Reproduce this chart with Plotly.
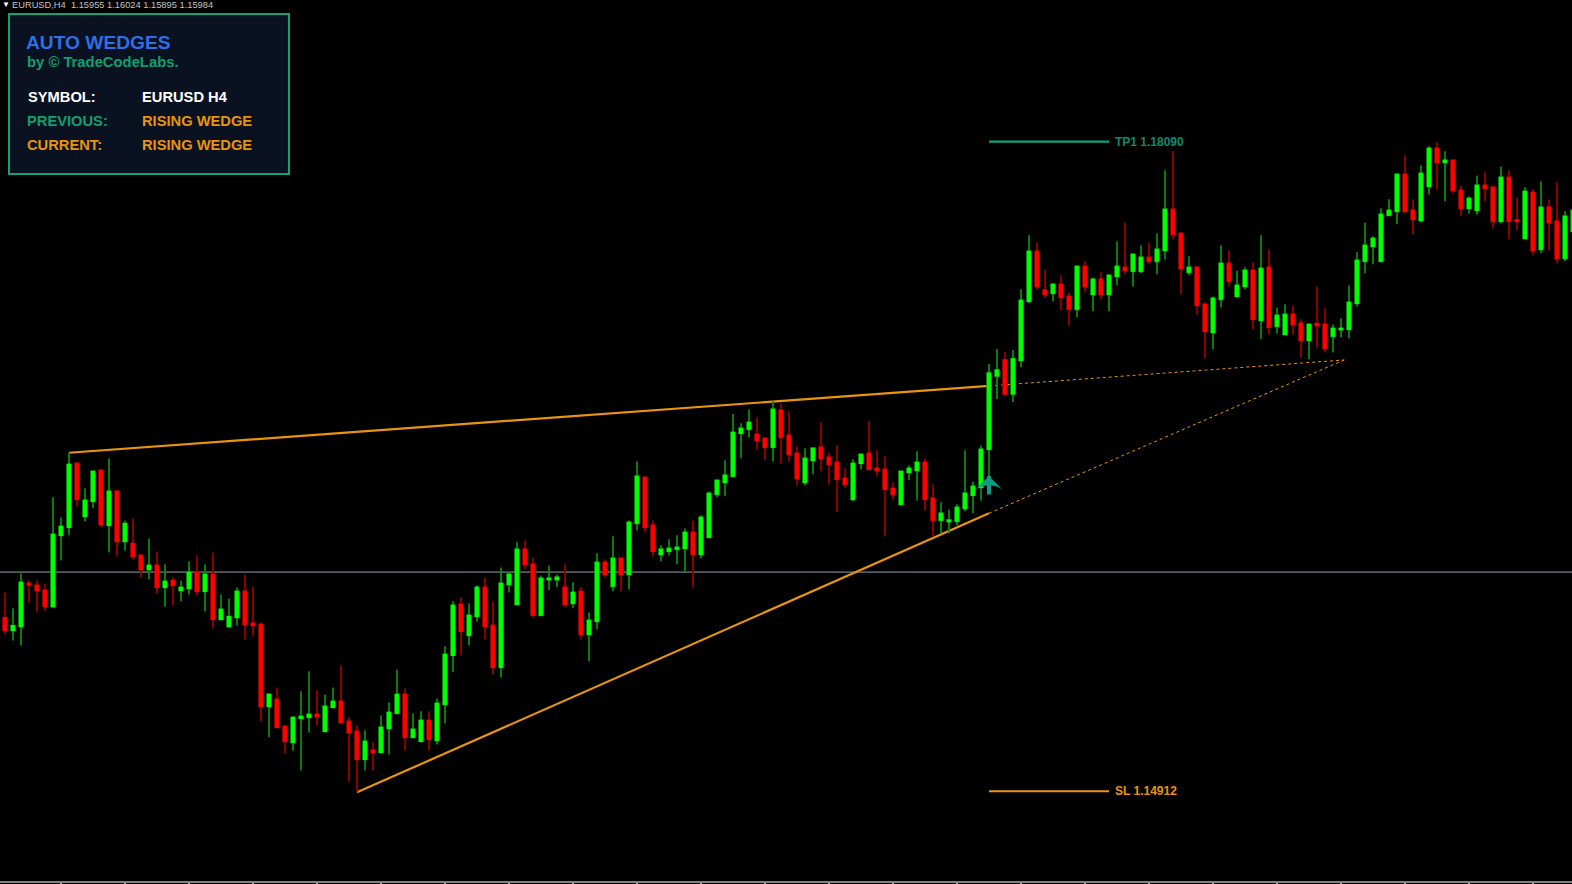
import plotly.graph_objects as go

# EURUSD H4 bars
opens = [
    1.15761, 1.15699, 1.15718, 1.15929, 1.15919, 1.15895, 1.15816, 1.16164, 1.16203, 1.16516,
    1.16257, 1.16330, 1.16482, 1.16213, 1.16379, 1.16134, 1.16124, 1.16066, 1.15997, 1.16017,
    1.15909, 1.15943, 1.15895, 1.15904, 1.15983, 1.15890, 1.15973, 1.15753, 1.15718, 1.15762,
    1.15890, 1.15733, 1.15728, 1.15327, 1.15362, 1.15229, 1.15151, 1.15269, 1.15273, 1.15288,
    1.15205, 1.15322, 1.15352, 1.15254, 1.15205, 1.15068, 1.15112, 1.15102, 1.15220, 1.15293,
    1.15386, 1.15176, 1.15156, 1.15259, 1.15161, 1.15337, 1.15577, 1.15826, 1.15675, 1.15768,
    1.15909, 1.15724, 1.15518, 1.15924, 1.15826, 1.16096, 1.16022, 1.15773, 1.15947, 1.15947,
    1.15910, 1.15831, 1.15890, 1.15680, 1.15743, 1.16032, 1.15915, 1.16052, 1.15973, 1.16223,
    1.16448, 1.16213, 1.16071, 1.16086, 1.16096, 1.16100, 1.16179, 1.16071, 1.16154, 1.16365,
    1.16423, 1.16453, 1.16663, 1.16683, 1.16658, 1.16639, 1.16595, 1.16776, 1.16653, 1.16565,
    1.16423, 1.16531, 1.16595, 1.16546, 1.16521, 1.16443, 1.16340, 1.16516, 1.16565, 1.16492,
    1.16487, 1.16394, 1.16316, 1.16472, 1.16482, 1.16521, 1.16345, 1.16238, 1.16231, 1.16233,
    1.16296, 1.16360, 1.16399, 1.16585, 1.16944, 1.17022, 1.16856, 1.17020, 1.17309, 1.17553,
    1.17363, 1.17348, 1.17392, 1.17333, 1.17270, 1.17480, 1.17343, 1.17416, 1.17343, 1.17431,
    1.17475, 1.17456, 1.17456, 1.17524, 1.17505, 1.17558, 1.17759, 1.17641, 1.17451, 1.17475,
    1.17294, 1.17157, 1.17319, 1.17495, 1.17333, 1.17382, 1.17460, 1.17216, 1.17475, 1.17187,
    1.17147, 1.17245, 1.17201, 1.17118, 1.17200, 1.17196, 1.17138, 1.17170, 1.17172, 1.17299,
    1.17505, 1.17578, 1.17505, 1.17730, 1.17749, 1.17930, 1.17754, 1.17705, 1.17871, 1.18057,
    1.17989, 1.17999, 1.17852, 1.17764, 1.17754, 1.17876, 1.17867, 1.17700, 1.17915, 1.17707,
    1.17617, 1.17842, 1.17563, 1.17769, 1.17700, 1.17519, 1.17651,
]
highs = [
    1.15885, 1.15807, 1.15978, 1.15943, 1.15943, 1.15929, 1.16350, 1.16252, 1.16568, 1.16516,
    1.16394, 1.16477, 1.16482, 1.16540, 1.16385, 1.16237, 1.16247, 1.16066, 1.16149, 1.16085,
    1.16022, 1.15958, 1.15943, 1.16036, 1.16066, 1.16022, 1.16080, 1.15875, 1.15855, 1.15909,
    1.15973, 1.15914, 1.15738, 1.15391, 1.15420, 1.15234, 1.15278, 1.15401, 1.15499, 1.15406,
    1.15386, 1.15420, 1.15528, 1.15273, 1.15234, 1.15210, 1.15151, 1.15283, 1.15347, 1.15508,
    1.15415, 1.15293, 1.15303, 1.15303, 1.15366, 1.15621, 1.15841, 1.15861, 1.15831, 1.15919,
    1.15958, 1.15841, 1.16007, 1.15985, 1.16130, 1.16140, 1.16056, 1.15968, 1.16017, 1.15973,
    1.16022, 1.15934, 1.15910, 1.15787, 1.16076, 1.16047, 1.16159, 1.16056, 1.16237, 1.16526,
    1.16448, 1.16237, 1.16115, 1.16144, 1.16164, 1.16198, 1.16237, 1.16262, 1.16379, 1.16438,
    1.16531, 1.16758, 1.16712, 1.16780, 1.16741, 1.16639, 1.16820, 1.16810, 1.16771, 1.16600,
    1.16590, 1.16595, 1.16717, 1.16570, 1.16604, 1.16492, 1.16536, 1.16565, 1.16722, 1.16580,
    1.16551, 1.16423, 1.16477, 1.16507, 1.16575, 1.16541, 1.16414, 1.16326, 1.16291, 1.16316,
    1.16580, 1.16428, 1.16604, 1.17002, 1.17076, 1.17061, 1.17071, 1.17368, 1.17632, 1.17597,
    1.17465, 1.17397, 1.17436, 1.17353, 1.17480, 1.17505, 1.17426, 1.17451, 1.17441, 1.17602,
    1.17695, 1.17544, 1.17583, 1.17597, 1.17641, 1.17950, 1.18043, 1.17641, 1.17529, 1.17480,
    1.17304, 1.17333, 1.17583, 1.17558, 1.17460, 1.17475, 1.17500, 1.17632, 1.17563, 1.17279,
    1.17294, 1.17289, 1.17221, 1.17196, 1.17382, 1.17275, 1.17196, 1.17226, 1.17387, 1.17549,
    1.17695, 1.17627, 1.17764, 1.17808, 1.17930, 1.18023, 1.17808, 1.17974, 1.18067, 1.18087,
    1.18043, 1.17999, 1.17876, 1.17822, 1.17925, 1.17940, 1.17876, 1.17969, 1.17950, 1.17818,
    1.17867, 1.17857, 1.17896, 1.17808, 1.17891, 1.17749, 1.17754,
]
lows = [
    1.15679, 1.15650, 1.15625, 1.15836, 1.15787, 1.15797, 1.15807, 1.16041, 1.16164, 1.16305,
    1.16232, 1.16296, 1.16203, 1.16080, 1.16061, 1.16090, 1.16046, 1.15958, 1.15948, 1.15880,
    1.15816, 1.15821, 1.15841, 1.15875, 1.15870, 1.15792, 1.15709, 1.15748, 1.15714, 1.15723,
    1.15655, 1.15670, 1.15254, 1.15176, 1.15225, 1.15097, 1.15112, 1.15014, 1.15200, 1.15234,
    1.15205, 1.15322, 1.15249, 1.14960, 1.14907, 1.15014, 1.15014, 1.15102, 1.15092, 1.15293,
    1.15112, 1.15176, 1.15156, 1.15112, 1.15141, 1.15244, 1.15494, 1.15577, 1.15626, 1.15743,
    1.15655, 1.15484, 1.15469, 1.15885, 1.15826, 1.15998, 1.15763, 1.15769, 1.15895, 1.15910,
    1.15812, 1.15807, 1.15655, 1.15548, 1.15704, 1.15959, 1.15890, 1.15890, 1.15900, 1.16188,
    1.16179, 1.16061, 1.16037, 1.16066, 1.16022, 1.15983, 1.15910, 1.16052, 1.16154, 1.16350,
    1.16355, 1.16448, 1.16541, 1.16643, 1.16585, 1.16531, 1.16526, 1.16516, 1.16526, 1.16409,
    1.16409, 1.16463, 1.16477, 1.16414, 1.16277, 1.16394, 1.16331, 1.16487, 1.16482, 1.16453,
    1.16159, 1.16340, 1.16316, 1.16433, 1.16335, 1.16286, 1.16159, 1.16174, 1.16174, 1.16213,
    1.16282, 1.16272, 1.16335, 1.16435, 1.16831, 1.16846, 1.16816, 1.16986, 1.17299, 1.17368,
    1.17324, 1.17309, 1.17265, 1.17191, 1.17231, 1.17353, 1.17260, 1.17319, 1.17260, 1.17387,
    1.17441, 1.17382, 1.17446, 1.17490, 1.17441, 1.17514, 1.17612, 1.17343, 1.17436, 1.17245,
    1.17030, 1.17074, 1.17279, 1.17382, 1.17333, 1.17368, 1.17172, 1.17123, 1.17147, 1.17152,
    1.17147, 1.17147, 1.17035, 1.17025, 1.17084, 1.17059, 1.17059, 1.17133, 1.17128, 1.17284,
    1.17446, 1.17490, 1.17505, 1.17730, 1.17686, 1.17739, 1.17637, 1.17695, 1.17832, 1.17857,
    1.17798, 1.17837, 1.17725, 1.17739, 1.17734, 1.17798, 1.17666, 1.17690, 1.17612, 1.17656,
    1.17617, 1.17534, 1.17544, 1.17558, 1.17495, 1.17505, 1.17625,
]
closes = [
    1.15699, 1.15722, 1.15934, 1.15922, 1.15895, 1.15816, 1.16169, 1.16208, 1.16511, 1.16340,
    1.16335, 1.16477, 1.16217, 1.16379, 1.16134, 1.16222, 1.16061, 1.15997, 1.16017, 1.15909,
    1.15939, 1.15919, 1.15909, 1.15983, 1.15890, 1.15973, 1.15753, 1.15802, 1.15767, 1.15890,
    1.15728, 1.15723, 1.15327, 1.15386, 1.15225, 1.15156, 1.15273, 1.15278, 1.15288, 1.15278,
    1.15327, 1.15352, 1.15249, 1.15200, 1.15068, 1.15156, 1.15102, 1.15225, 1.15298, 1.15386,
    1.15176, 1.15215, 1.15259, 1.15166, 1.15342, 1.15582, 1.15821, 1.15694, 1.15772, 1.15909,
    1.15719, 1.15518, 1.15929, 1.15973, 1.16096, 1.16022, 1.15773, 1.15954, 1.15954, 1.15959,
    1.15826, 1.15885, 1.15680, 1.15748, 1.16032, 1.15973, 1.16052, 1.15973, 1.16228, 1.16453,
    1.16203, 1.16086, 1.16096, 1.16100, 1.16105, 1.16179, 1.16071, 1.16252, 1.16369, 1.16433,
    1.16458, 1.16668, 1.16687, 1.16717, 1.16629, 1.16595, 1.16781, 1.16644, 1.16560, 1.16443,
    1.16541, 1.16590, 1.16541, 1.16512, 1.16438, 1.16414, 1.16516, 1.16560, 1.16487, 1.16482,
    1.16389, 1.16365, 1.16477, 1.16492, 1.16521, 1.16340, 1.16238, 1.16272, 1.16238, 1.16301,
    1.16370, 1.16404, 1.16585, 1.16958, 1.16973, 1.16856, 1.17027, 1.17314, 1.17553, 1.17382,
    1.17343, 1.17392, 1.17328, 1.17270, 1.17480, 1.17382, 1.17416, 1.17343, 1.17436, 1.17480,
    1.17460, 1.17539, 1.17524, 1.17505, 1.17563, 1.17759, 1.17637, 1.17470, 1.17475, 1.17289,
    1.17162, 1.17324, 1.17495, 1.17407, 1.17387, 1.17460, 1.17221, 1.17470, 1.17182, 1.17240,
    1.17245, 1.17196, 1.17118, 1.17196, 1.17190, 1.17079, 1.17177, 1.17177, 1.17304, 1.17509,
    1.17583, 1.17617, 1.17734, 1.17754, 1.17930, 1.17749, 1.17710, 1.17935, 1.18057, 1.17989,
    1.17999, 1.17852, 1.17764, 1.17813, 1.17876, 1.17862, 1.17700, 1.17915, 1.17700, 1.17700,
    1.17847, 1.17558, 1.17769, 1.17695, 1.17519, 1.17725, 1.17754,
]
bars = list(range(len(opens)))
body_tops = [max(o, c) for o, c in zip(opens, closes)]
body_bottoms = [min(o, c) for o, c in zip(opens, closes)]

# levels and wedge
bid_price = 1.15984
tp_price = 1.18090
sl_price = 1.14912
level_bars = [123, 138]
upper_bars = [8, 123]
upper_prices = [1.16568, 1.16895]
lower_bars = [44, 123]
lower_prices = [1.14907, 1.16272]
apex_bar = 167.4
apex_price = 1.17022
signal_bar = 123
signal_price = 1.16454

ORANGE = "#e9940d"
TEAL = "#0fa37a"
FONT = "Liberation Sans"


def px(x):
    return x / 1572


def py(y):
    return 1 - y / 881


def label(x, y, text, color, size, bold=True):
    if bold:
        text = f"<b>{text}</b>"
    return dict(xref="paper", yref="paper", x=px(x), y=py(y), text=text, showarrow=False,
                xanchor="left", yanchor="middle", font=dict(family=FONT, size=size, color=color))


fig = go.Figure()

# wicks first, bodies on top because the terminal draws them in two colours
fig.add_trace(go.Candlestick(
    x=bars, open=opens, high=highs, low=lows, close=closes,
    increasing=dict(line=dict(color="#0a8a0a", width=1.8), fillcolor="#00ff00"),
    decreasing=dict(line=dict(color="#990000", width=1.8), fillcolor="#ff0000"),
    whiskerwidth=0, showlegend=False,
))
fig.add_trace(go.Candlestick(
    x=bars, open=opens, high=body_tops, low=body_bottoms, close=closes,
    increasing=dict(line=dict(color="#00ff00", width=1.2), fillcolor="#00ff00"),
    decreasing=dict(line=dict(color="#ff0000", width=1.2), fillcolor="#ff0000"),
    whiskerwidth=0, showlegend=False,
))
# chevron head of the buy signal, the stem is an annotation below
fig.add_trace(go.Scatter(
    x=[signal_bar], y=[signal_price], mode="markers", showlegend=False,
    marker=dict(symbol="arrow-wide", size=22, color="#119b84", line=dict(width=0)),
))

solid = dict(color=ORANGE, width=2.2)
dotted = dict(color=ORANGE, width=1, dash="3px,3px")
shapes = [
    dict(type="line", xref="paper", x0=0, x1=1, yref="y", y0=bid_price, y1=bid_price,
         line=dict(color="#545b63", width=1.6), layer="below"),
    dict(type="line", x0=upper_bars[0], x1=upper_bars[1], y0=upper_prices[0], y1=upper_prices[1],
         line=solid, layer="below"),
    dict(type="line", x0=lower_bars[0], x1=lower_bars[1], y0=lower_prices[0], y1=lower_prices[1],
         line=solid, layer="below"),
    dict(type="line", x0=upper_bars[1], x1=apex_bar, y0=upper_prices[1], y1=apex_price,
         line=dotted, layer="below"),
    dict(type="line", x0=lower_bars[1], x1=apex_bar, y0=lower_prices[1], y1=apex_price,
         line=dotted, layer="below"),
    dict(type="line", x0=level_bars[0], x1=level_bars[1], y0=tp_price, y1=tp_price,
         line=dict(color=TEAL, width=2.2), layer="below"),
    dict(type="line", x0=level_bars[0], x1=level_bars[1], y0=sl_price, y1=sl_price,
         line=dict(color=ORANGE, width=2.2), layer="below"),
    # info panel
    dict(type="rect", xref="paper", yref="paper", x0=px(9), x1=px(289), y0=py(14), y1=py(174),
         fillcolor="#0a1120", line=dict(color="#0fa37a", width=2)),
]

annotations = [
    label(10, 4.5, "EURUSD,H4&nbsp;&nbsp;1.15955 1.16024 1.15895 1.15984", "#c4c4c4", 9.3, bold=False),
    label(0, 4, "▼", "#ffffff", 8, bold=False),
    label(24, 42.5, "AUTO WEDGES", "#2f6fe6", 19.2),
    label(25, 62, "by © TradeCodeLabs.", "#0fa070", 14.8),
    label(26, 96.5, "SYMBOL:", "#ffffff", 14.7),
    label(140, 96.5, "EURUSD H4", "#ffffff", 14.7),
    label(25, 120.5, "PREVIOUS:", "#0fa070", 14.7),
    label(140, 120.5, "RISING WEDGE", ORANGE, 14.7),
    label(25, 144.5, "CURRENT:", ORANGE, 14.7),
    label(140, 144.5, "RISING WEDGE", ORANGE, 14.7),
    dict(x=138.45, y=tp_price, text="<b>TP1 1.18090</b>", showarrow=False, xanchor="left",
         yanchor="middle", font=dict(family=FONT, size=12, color="#0d8a6c")),
    dict(x=138.55, y=sl_price, text="<b>SL 1.14912</b>", showarrow=False, xanchor="left",
         yanchor="middle", font=dict(family=FONT, size=12, color=ORANGE)),
    dict(x=signal_bar, y=signal_price, ax=0, ay=20, text="", showarrow=True, arrowhead=0,
         arrowwidth=4, arrowcolor="#119b84"),
]

fig.update_layout(
    width=1572, height=884,
    margin=dict(l=0, r=0, t=0, b=3),
    paper_bgcolor="#000000", plot_bgcolor="#000000",
    showlegend=False, boxgap=0.4,
    shapes=shapes, annotations=annotations,
    xaxis=dict(
        range=[-0.625, 195.875], rangeslider=dict(visible=False), showgrid=False, zeroline=False,
        showticklabels=False, showline=True, linecolor="#808080", linewidth=2,
        tickmode="array", tickvals=list(range(7, 197, 8)), ticks="outside", ticklen=3,
        tickwidth=2, tickcolor="#b0b0b0",
    ),
    yaxis=dict(range=[1.14473, 1.18783], visible=False, showgrid=False, zeroline=False),
)

fig.write_html("out.html", config=dict(displayModeBar=False),
               post_script="document.body.style.margin='0';document.body.style.overflow='hidden';")
